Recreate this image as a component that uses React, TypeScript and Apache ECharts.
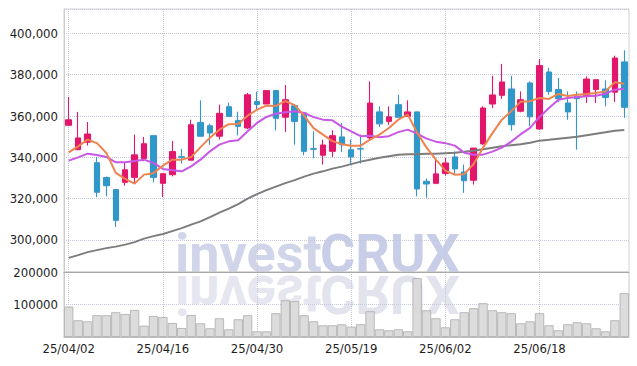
import React, { useEffect, useRef } from 'react';
import * as echarts from 'echarts';

const dates = [
  '25/04/02', '25/04/03', '25/04/04', '25/04/07', '25/04/08', '25/04/09', '25/04/10', '25/04/11', '25/04/14', '25/04/15',
  '25/04/16', '25/04/17', '25/04/18', '25/04/21', '25/04/22', '25/04/23', '25/04/24', '25/04/25', '25/04/28', '25/04/29',
  '25/04/30', '25/05/02', '25/05/07', '25/05/08', '25/05/09', '25/05/12', '25/05/13', '25/05/14', '25/05/15', '25/05/16',
  '25/05/19', '25/05/20', '25/05/21', '25/05/22', '25/05/23', '25/05/26', '25/05/27', '25/05/28', '25/05/29', '25/05/30',
  '25/06/02', '25/06/04', '25/06/05', '25/06/09', '25/06/10', '25/06/11', '25/06/12', '25/06/13', '25/06/16', '25/06/17',
  '25/06/18', '25/06/19', '25/06/20', '25/06/23', '25/06/24', '25/06/25', '25/06/26', '25/06/27', '25/06/30', '25/07/01',
];

const openPrices = [
  355500, 343700, 347300, 337400, 330200, 324400, 327900, 330300, 339400, 350500,
  327400, 331600, 340300, 338600, 356900, 355300, 350200, 364500, 357800, 354200,
  367000, 365800, 372300, 359400, 365000, 361500, 344200, 341000, 342900, 349900,
  343700, 344200, 349400, 362000, 357400, 365500, 359800, 362000, 328400, 327400,
  332200, 340200, 332900, 328900, 346500, 365800, 370000, 373100, 362300, 376000,
  353700, 381300, 372800, 366300, 369500, 369800, 372800, 373100, 371500, 386200,
];
const closePrices = [
  358200, 349400, 351300, 323100, 326300, 309500, 334000, 341200, 346600, 330300,
  332100, 342800, 340000, 355800, 350200, 351800, 361300, 359800, 355000, 370300,
  365600, 372300, 358900, 367900, 357400, 342900, 343900, 346000, 350500, 346100,
  340200, 344000, 366300, 356200, 359600, 359400, 362000, 324700, 327100, 332000,
  337300, 334400, 328700, 344500, 363900, 370200, 376500, 355800, 367900, 359600,
  384400, 371900, 368400, 362000, 368400, 377900, 377600, 369000, 388100, 364200,
];
const lowPrices = [
  355500, 343500, 345700, 320800, 321100, 306300, 326300, 327100, 338100, 327900,
  320800, 330800, 337000, 338400, 350200, 346100, 348600, 359800, 350600, 353700,
  363100, 365800, 353100, 352300, 346100, 341000, 339700, 336500, 340200, 342600,
  336500, 337000, 348600, 354700, 355800, 359400, 359800, 321100, 320400, 327400,
  331100, 331600, 322800, 326800, 346100, 363900, 368300, 352900, 361800, 355000,
  353400, 370300, 366800, 358200, 343700, 366300, 366300, 364700, 366800, 359100,
];
const highPrices = [
  369200, 362000, 357100, 340200, 330700, 324400, 337300, 351000, 349900, 350500,
  332100, 347900, 344100, 358200, 367600, 356300, 365500, 366500, 362100, 371200,
  371800, 372400, 372300, 375000, 365300, 361500, 352600, 348600, 353100, 356600,
  348600, 351000, 376800, 364700, 364700, 370300, 367600, 362000, 329800, 339400,
  339700, 342900, 336500, 344500, 364700, 379500, 385200, 379500, 371900, 376800,
  387600, 383300, 378400, 371900, 371900, 379200, 377600, 377300, 389200, 391800,
];

const ma5 = [
  342420, 345320, 348560, 346870, 342130, 332450, 329550, 327270, 331630, 332350,
  335980, 338880, 338880, 340090, 344930, 349530, 353400, 356060, 356160, 360170,
  363080, 365010, 364870, 367190, 365260, 360170, 354130, 350980, 347840, 346380,
  345660, 345660, 348560, 350980, 354220, 358240, 360660, 351950, 344690, 338880,
  333560, 331630, 331870, 336760, 344690, 351710, 358240, 362350, 366950, 367190,
  368740, 368260, 370680, 369710, 370340, 370680, 371160, 371930, 376390, 375660,
];
const ma20 = [
  338400, 340000, 341790, 341160, 340190, 337580, 337580, 338250, 338880, 337290,
  334380, 333800, 333220, 335640, 338880, 342900, 346140, 347740, 348320, 352580,
  356640, 359550, 361140, 361770, 362260, 361480, 359450, 358240, 357900, 354900,
  352580, 350250, 350400, 349670, 350250, 352190, 353400, 351460, 349050, 347590,
  346870, 345660, 342270, 341300, 341300, 342750, 344690, 347590, 351220, 354220,
  359550, 363900, 367920, 368740, 369220, 369510, 369850, 370820, 372760, 373240,
];
const maLong = [
  291320, 292670, 294120, 295090, 296060, 296780, 297750, 298960, 300650, 301870,
  302930, 304290, 305740, 307430, 309030, 311060, 313240, 315170, 317350, 320010,
  322190, 324120, 325820, 327510, 328960, 330660, 332110, 333220, 334530, 335500,
  336710, 337920, 338880, 339850, 340580, 341210, 341450, 341540, 341690, 341790,
  342030, 342270, 342750, 343240, 343960, 344690, 345420, 345900, 346380, 347110,
  348080, 348560, 349050, 349530, 350010, 350740, 351470, 352190, 352920, 353260,
];

const volumes = [
  93700, 51600, 48500, 67100, 67100, 76300, 71100, 83500, 34900, 64900,
  61800, 43300, 27800, 68000, 42300, 26900, 57800, 23800, 54700, 67100,
  17600, 17600, 73300, 113400, 110400, 67100, 48500, 36200, 36200, 39300,
  31800, 39300, 79400, 23800, 20700, 23800, 17600, 181400, 82500, 57800,
  30000, 54700, 76300, 88700, 104200, 82500, 76300, 73300, 42300, 48500,
  73300, 36200, 20700, 39300, 45400, 42300, 26900, 17600, 51600, 135100,
];

const priceTicks = [300000, 320000, 340000, 360000, 380000, 400000];
const volumeTicks = [100000, 200000];

const UP = '#e2196a';
const DOWN = '#2f99c9';
const GRID_LINE = '#c4c8da';
const LABEL_FONT = '"DejaVu Sans Condensed", "Liberation Sans Narrow", Roboto, sans-serif';
const MARK_FONT = 'Roboto, "Noto Sans", sans-serif';

export default function App() {
  const ref = useRef<HTMLDivElement>(null);

  useEffect(() => {
    if (!ref.current) return;
    const chart = echarts.init(ref.current, undefined, { renderer: 'svg' });

    const candleData = dates.map((_, i) => [openPrices[i], closePrices[i], lowPrices[i], highPrices[i]]);

    const vSplit = {
      show: true,
      interval: 9,
      alignWithLabel: true,
      lineStyle: { type: 'dotted', color: GRID_LINE, width: 1 },
    };

    const markText = (text: string, x: number, fill: string, flipped: boolean) => ({
      type: 'text',
      x,
      y: flipped ? 275 : 272,
      z: -10,
      scaleY: flipped ? -1 : 1,
      style: {
        x: 0,
        y: -19,
        text,
        fontFamily: MARK_FONT,
        fontWeight: 'bold',
        fontSize: 54,
        fill,
        verticalAlign: 'middle',
      },
    });

    chart.setOption({
      animation: false,
      backgroundColor: '#ffffff',
      grid: [
        { left: 64, right: 8, top: 9, height: 263, show: true, borderColor: '#d2d2d2', borderWidth: 1 },
        { left: 64, right: 8, top: 272, height: 65, show: true, borderColor: '#c8c8c8', borderWidth: 1 },
      ],
      graphic: [
        markText('invest', 175, '#d0d5ea', false),
        markText('CRUX', 320, '#c8cee7', false),
        markText('invest', 175, '#e6e6f0', true),
        markText('CRUX', 320, '#e3e3ee', true),
      ],
      xAxis: [
        {
          type: 'category', gridIndex: 0, data: dates, boundaryGap: true,
          axisLine: { show: true, lineStyle: { color: '#a8a8a8', width: 1 } },
          axisTick: { show: false },
          axisLabel: { show: false, interval: 9 },
          splitLine: vSplit,
        },
        {
          type: 'category', gridIndex: 1, data: dates, boundaryGap: true,
          axisLine: { show: true, lineStyle: { color: '#bdbdbd', width: 1 } },
          axisTick: { show: false },
          axisLabel: { interval: 9, color: '#1e1e1e', fontSize: 13, fontFamily: LABEL_FONT, margin: 5 },
          splitLine: vSplit,
        },
      ],
      yAxis: [
        {
          type: 'value', gridIndex: 0, min: 284500, max: 411800, splitNumber: 6, scale: true,
          axisLine: { show: true, lineStyle: { color: '#cccccc', width: 1 } },
          axisTick: { show: false },
          axisLabel: {
            showMinLabel: false, showMaxLabel: false, color: '#1e1e1e', fontSize: 13, fontFamily: LABEL_FONT, margin: 6,
            formatter: (v: number) => (priceTicks.includes(v) ? v.toLocaleString('en-US') : ''),
          },
          splitLine: { show: true, lineStyle: { type: 'dotted', color: GRID_LINE, width: 1 } },
        },
        {
          type: 'value', gridIndex: 1, min: 0, max: 200000, interval: 100000,
          axisLine: { show: true, lineStyle: { color: '#cccccc', width: 1 } },
          axisTick: { show: false },
          axisLabel: {
            showMinLabel: false, color: '#1e1e1e', fontSize: 13, fontFamily: LABEL_FONT, margin: 6,
            formatter: (v: number) => (volumeTicks.includes(v) ? String(v) : ''),
          },
          splitLine: { show: true, lineStyle: { type: 'dotted', color: GRID_LINE, width: 1 } },
        },
      ],
      series: [
        {
          type: 'bar', xAxisIndex: 1, yAxisIndex: 1, data: volumes, barCategoryGap: '0%',
          itemStyle: { color: '#d9d9d9', borderColor: '#b4b4b4', borderWidth: 1, opacity: 0.92 },
        },
        {
          type: 'candlestick', xAxisIndex: 0, yAxisIndex: 0, data: candleData, barWidth: 6,
          itemStyle: { color: UP, color0: DOWN, borderColor: UP, borderColor0: DOWN, borderWidth: 1, shadowBlur: 2, shadowColor: 'rgba(200,160,200,0.4)' },
        },
        {
          type: 'line', xAxisIndex: 0, yAxisIndex: 0, data: maLong, symbol: 'none',
          lineStyle: { color: '#7d7d7d', width: 2 },
        },
        {
          type: 'line', xAxisIndex: 0, yAxisIndex: 0, data: ma20, symbol: 'none',
          lineStyle: { color: '#c957e6', width: 2 },
        },
        {
          type: 'line', xAxisIndex: 0, yAxisIndex: 0, data: ma5, symbol: 'none',
          lineStyle: { color: '#ef8350', width: 2 },
        },
      ],
    });

    return () => chart.dispose();
  }, []);

  return <div ref={ref} style={{ position: 'fixed', left: 0, top: 0, width: 637, height: 366 }} />;
}
